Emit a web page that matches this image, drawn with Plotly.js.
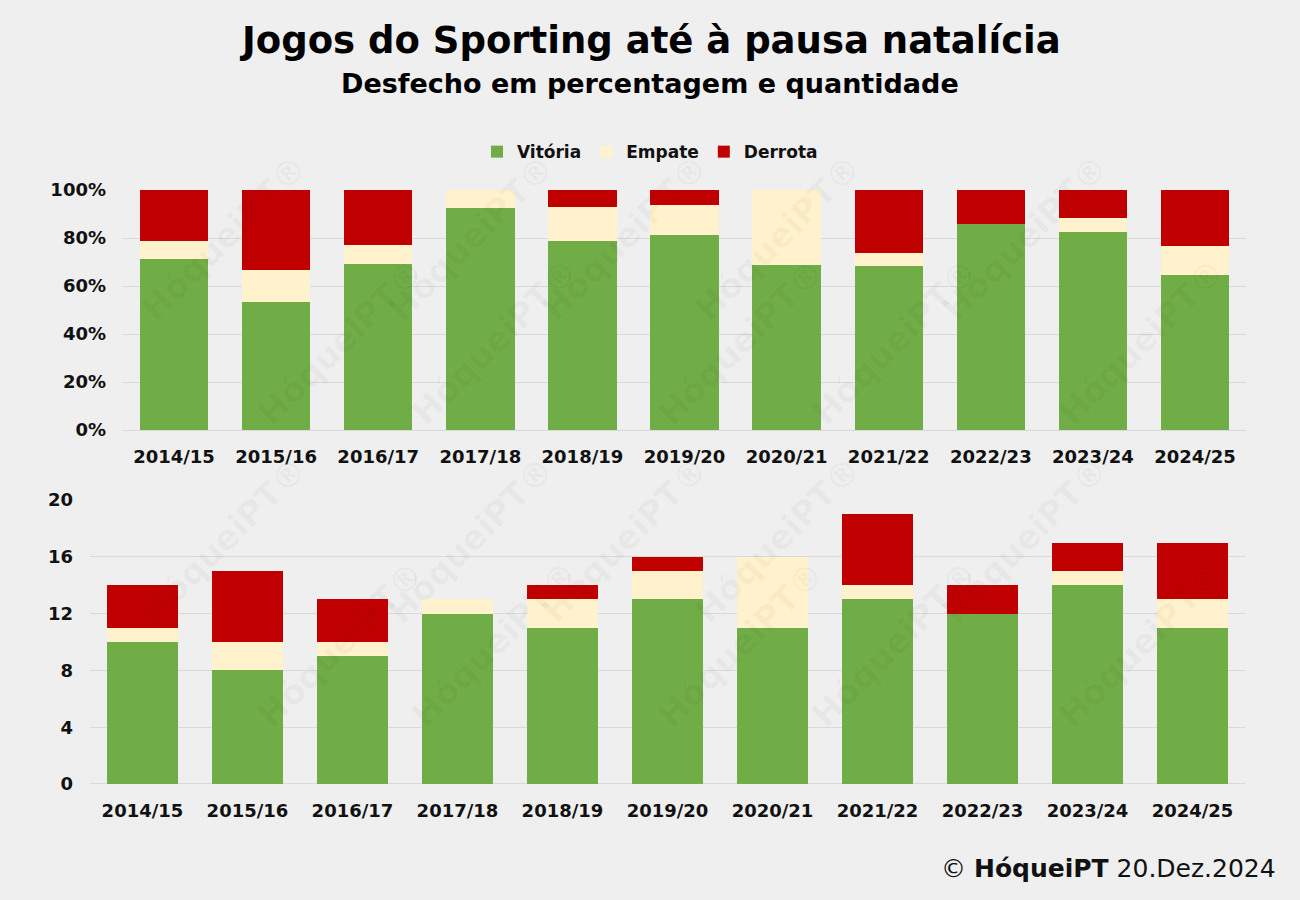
<!DOCTYPE html>
<html>
<head>
<meta charset="utf-8">
<script src="https://cdn.plot.ly/plotly-3.0.1.min.js"></script>
<style>
  html, body { margin: 0; padding: 0; background: #efefef; }
  #chart { width: 1300px; height: 900px; }
</style>
</head>
<body>
<div id="chart"></div>
<script>
const seasons = [
  "2014/15", "2015/16", "2016/17", "2017/18", "2018/19", "2019/20",
  "2020/21", "2021/22", "2022/23", "2023/24", "2024/25",
];
const vitorias = [10, 8, 9, 12, 11, 13, 11, 13, 12, 14, 11];
const empates = [1, 2, 1, 1, 2, 2, 5, 1, 0, 1, 2];
const derrotas = [3, 5, 3, 0, 1, 1, 0, 5, 2, 2, 4];

const seriesNames = ["Vitória", "Empate", "Derrota"];
const seriesColors = ["#70ad47", "#fff2cc", "#c00000"];

const FONT = '"DejaVu Sans", "Open Sans", sans-serif';

// share of each outcome per season, from the counts
const totals = seasons.map((_, i) => vitorias[i] + empates[i] + derrotas[i]);
const pct = (arr) => arr.map((v, i) => (v / totals[i]) * 100);

const counts = [vitorias, empates, derrotas];

const traces = [];
counts.forEach((arr, k) => {
  traces.push({
    type: "bar",
    x: seasons,
    y: pct(arr),
    name: seriesNames[k],
    legendgroup: seriesNames[k],
    marker: { color: seriesColors[k], line: { width: 0 } },
    xaxis: "x",
    yaxis: "y",
    hovertemplate: "%{x}<br>%{y:.1f}%<extra>" + seriesNames[k] + "</extra>",
  });
  traces.push({
    type: "bar",
    x: seasons,
    y: arr,
    name: seriesNames[k],
    legendgroup: seriesNames[k],
    showlegend: false,
    marker: { color: seriesColors[k], line: { width: 0 } },
    xaxis: "x2",
    yaxis: "y2",
    hovertemplate: "%{x}<br>%{y}<extra>" + seriesNames[k] + "</extra>",
  });
});

function xAxis(domain, anchor) {
  return {
    domain: domain,
    anchor: anchor,
    type: "category",
    showgrid: false,
    zeroline: false,
    showline: false,
    ticks: "",
    ticklabelstandoff: 14,
    tickfont: { family: FONT, size: 18, color: "#111111", weight: 700 },
    fixedrange: true,
  };
}

function yAxis(domain, anchor, range, dtick, suffix) {
  return {
    domain: domain,
    anchor: anchor,
    range: range,
    dtick: dtick,
    tick0: 0,
    ticksuffix: suffix,
    showgrid: true,
    gridcolor: "#d9d9d9",
    gridwidth: 1,
    zeroline: true,
    zerolinecolor: "#d9d9d9",
    zerolinewidth: 1,
    showline: false,
    ticks: "",
    ticklabelstandoff: 16,
    tickfont: { family: FONT, size: 18, color: "#111111", weight: 700 },
    fixedrange: true,
  };
}

// faint repeated watermark, kept inside the frame
const watermarks = [];
for (let r = 0; r < 4; r++) {
  for (let c = 0; c < 5; c++) {
    watermarks.push({
      xref: "paper",
      yref: "paper",
      x: 0.1 + c * 0.19 + (r % 2) * 0.09,
      y: 0.84 - r * 0.22,
      text: "HóqueiPT®",
      showarrow: false,
      textangle: -45,
      font: { family: FONT, size: 34, color: "rgba(0,0,0,0.03)", weight: 700 },
    });
  }
}

const layout = {
  width: 1300,
  height: 900,
  paper_bgcolor: "#efefef",
  plot_bgcolor: "#efefef",
  barmode: "stack",
  bargap: 0.33,
  margin: { l: 0, r: 0, t: 0, b: 0 },
  font: { family: FONT, color: "#111111" },
  showlegend: true,
  legend: {
    orientation: "h",
    x: 0.5,
    xanchor: "center",
    y: 0.831,
    yanchor: "middle",
    traceorder: "normal",
    bgcolor: "rgba(0,0,0,0)",
    font: { family: FONT, size: 17, color: "#111111", weight: 700 },
    itemwidth: 30,
  },
  xaxis: xAxis([0.0946, 0.9585], "y"),
  yaxis: yAxis([0.5222, 0.7889], "x", [0, 100], 20, "%"),
  xaxis2: xAxis([0.0692, 0.9577], "y2"),
  yaxis2: yAxis([0.1289, 0.4444], "x2", [0, 20], 4, ""),
  annotations: watermarks.concat([
    {
      xref: "paper", yref: "paper", x: 0.5, y: 0.955,
      xanchor: "center", yanchor: "middle", showarrow: false,
      text: "Jogos do Sporting até à pausa natalícia",
      font: { family: FONT, size: 37, color: "#000000", weight: 700 },
    },
    {
      xref: "paper", yref: "paper", x: 0.5, y: 0.907,
      xanchor: "center", yanchor: "middle", showarrow: false,
      text: "Desfecho em percentagem e quantidade",
      font: { family: FONT, size: 27, color: "#000000", weight: 700 },
    },
    {
      xref: "paper", yref: "paper", x: 0.983, y: 0.035,
      xanchor: "right", yanchor: "middle", showarrow: false,
      text: "© <b>HóqueiPT</b> 20.Dez.2024",
      font: { family: FONT, size: 25, color: "#111111" },
    },
  ]),
};

Plotly.newPlot("chart", traces, layout, { displayModeBar: false, staticPlot: true });
</script>
</body>
</html>
